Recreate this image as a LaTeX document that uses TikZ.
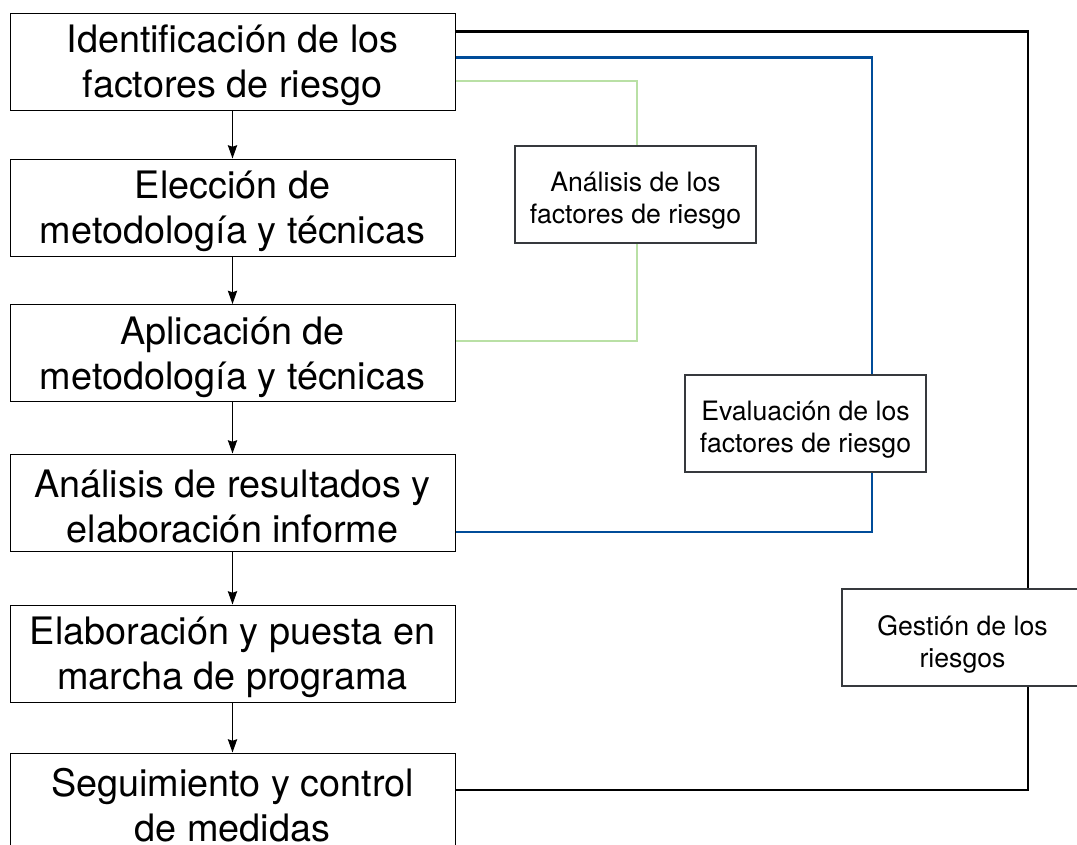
\documentclass[tikz,border=0pt]{standalone}
\usepackage{fontspec}
\setmainfont{TeX Gyre Heros}
\usetikzlibrary{arrows.meta,calc}
\definecolor{linkblue}{HTML}{004C99}
\definecolor{linkgreen}{HTML}{B9E0A5}
\definecolor{lblborder}{HTML}{36393D}
\tikzset{
  mainbox/.style={draw=black, line width=0.75pt, fill=white, minimum width=445*0.75pt, minimum height=97*0.75pt,
    inner sep=0pt},
  maintext/.style={inner sep=0pt, align=center, yshift=-3pt, font=\fontsize{28.35}{33.75}\selectfont},
  lblbox/.style={draw=lblborder, line width=0.9pt, fill=white, minimum width=241*0.75pt, minimum height=97*0.75pt,
    inner sep=0pt},
  lbltext/.style={inner sep=0pt, align=center, yshift=-5pt, font=\fontsize{20}{24}\selectfont},
  flowarrow/.style={draw=black, line width=0.8pt, -{Stealth[length=10pt,width=7pt,inset=1.2pt]}},
  blackconn/.style={draw=black, line width=1.9pt},
  blueconn/.style={draw=linkblue, line width=1.7pt},
  greenconn/.style={draw=linkgreen, line width=1.6pt}
}
\begin{document}
\begin{tikzpicture}[x=0.75pt,y=-0.75pt]
\useasboundingbox (0,0) rectangle (1077,844);
\clip (0,0) rectangle (1077,844);
\fill[white] (0,0) rectangle (1077,844);

% main flow boxes
\node[mainbox, label={[maintext]center:{Identificación de los\\factores de riesgo}}] (b1) at (232.5,61.5) {};
\node[mainbox, label={[maintext]center:{Elección de\\metodología y técnicas}}] (b2) at (232.5,207.5) {};
\node[mainbox, label={[maintext]center:{Aplicación de\\metodología y técnicas}}] (b3) at (232.5,353) {};
\node[mainbox, label={[maintext]center:{Análisis de resultados y\\elaboración informe}}] (b4) at (232.5,502.5) {};
\node[mainbox, label={[maintext]center:{Elaboración y puesta en\\marcha de programa}}] (b5) at (232.5,653.5) {};
\node[mainbox, label={[maintext]center:{Seguimiento y control\\de medidas}}] (b6) at (232.5,801.5) {};

% flow arrows
\draw[flowarrow] (b1) -- (b2);
\draw[flowarrow] (b2) -- (b3);
\draw[flowarrow] (b3) -- (b4);
\draw[flowarrow] (b4) -- (b5);
\draw[flowarrow] (b5) -- (b6);

% corner coordinates of the bracket connectors
\coordinate (kc) at (1028,790);
\coordinate (bc) at (872,532);
\coordinate (gc) at (637,341);

% bracket connectors
\draw[blackconn] ($(b1.north east)+(0,19)$) -| (kc) -- ($(b6.east)+(0,-11.5)$);
\draw[blueconn] ($(b1.north east)+(0,45)$) -| (bc) -- ($(b4.east)+(0,29.5)$);
\draw[greenconn] ($(b1.north east)+(0,68.5)$) -| (gc) -- ($(b3.east)+(0,-12)$);

% label boxes on top of connectors
\node[lblbox, label={[lbltext]center:{Análisis de los\\factores de riesgo}}] (la) at (635.5,194.5) {};
\node[lblbox, label={[lbltext]center:{Evaluación de los\\factores de riesgo}}] (le) at (805.5,423.5) {};
\node[lblbox, label={[lbltext]center:{Gestión de los\\riesgos}}] (lg) at (962.5,637.5) {};
\end{tikzpicture}
\end{document}
